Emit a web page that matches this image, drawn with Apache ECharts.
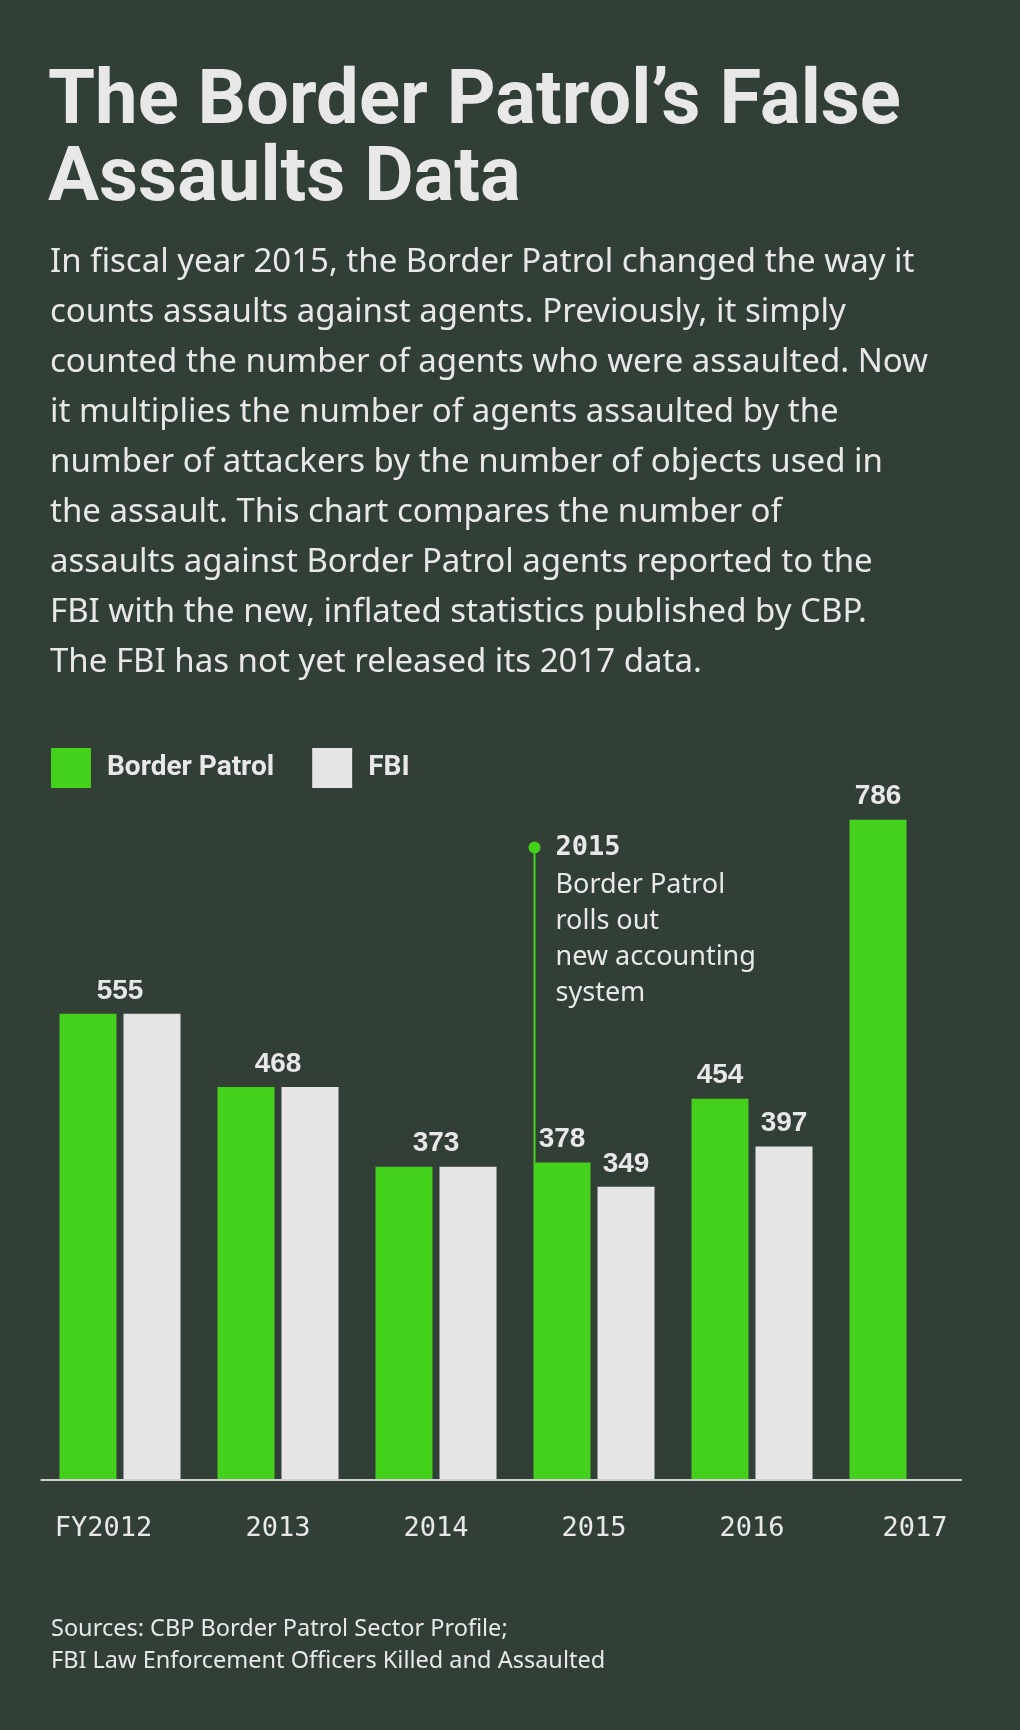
<!DOCTYPE html>
<html lang="en">
<head>
<meta charset="UTF-8">
<title>The Border Patrol's False Assaults Data</title>
<style>
  html, body { margin: 0; padding: 0; background: #323f37; }
  #main { width: 1020px; height: 1730px; }
</style>
</head>
<body>
<div id="main"></div>
<script src="https://cdn.jsdelivr.net/npm/echarts@6/dist/echarts.min.js"></script>
<script>
// data
var categories = ['2012', '2013', '2014', '2015', '2016', '2017'];
var axisLabels = ['FY2012', '2013', '2014', '2015', '2016', '2017'];
var borderPatrol = [555, 468, 373, 378, 454, 786];
var fbi = [555, 468, 373, 349, 397, null];

var seriesNames = ['Border Patrol', 'FBI'];
var noteYear = '2015';
var noteValue = 753; // where the annotation dot sits on the value scale
var noteTitle = '2015';
var noteText = 'Border Patrol\nrolls out\nnew accounting\nsystem';

var titleText = 'The Border Patrol\u2019s False\nAssaults Data';
var bodyText = [
  'In fiscal year 2015, the Border Patrol changed the way it',
  'counts assaults against agents. Previously, it simply',
  'counted the number of agents who were assaulted. Now',
  'it multiplies the number of agents assaulted by the',
  'number of attackers by the number of objects used in',
  'the assault. This chart compares the number of',
  'assaults against Border Patrol agents reported to the',
  'FBI with the new, inflated statistics published by CBP.',
  'The FBI has not yet released its 2017 data.'
].join('\n');
var sourceText = 'Sources: CBP Border Patrol Sector Profile;\nFBI Law Enforcement Officers Killed and Assaulted';

var GREEN = '#44d11b';
var WHITE = '#e5e5e5';
var TEXT = '#e8e8e8';
var BG = '#323f37';
var barWidth = 57;
var barGapPx = 7;

var heavy = "Roboto, 'Liberation Sans', sans-serif";
var sans = "'Noto Sans', 'Liberation Sans', sans-serif";
var mono = "'DejaVu Sans Mono', 'Liberation Mono', monospace";
var labelFont = "'Liberation Sans', Arial, sans-serif";

// when both values match, one label sits over the middle of the pair
var bpData = borderPatrol.map(function (v, i) {
  if (fbi[i] === v) {
    return { value: v, label: { offset: [(barWidth + barGapPx) / 2, 0] } };
  }
  return v;
});
var fbiData = fbi.map(function (v, i) {
  if (v === borderPatrol[i]) {
    return { value: v, label: { show: false } };
  }
  return v;
});

var chart = echarts.init(document.getElementById('main'));

var barLabel = {
  show: true,
  position: 'top',
  distance: 9,
  color: TEXT,
  fontFamily: labelFont,
  fontWeight: 'bold',
  fontSize: 28
};

chart.setOption({
  backgroundColor: BG,
  animation: false,
  title: [{
    text: titleText,
    left: 48,
    top: 65,
    padding: 0,
    textStyle: {
      color: TEXT,
      fontFamily: heavy,
      fontWeight: 'bold',
      fontSize: 76,
      lineHeight: 77
    }
  }, {
    text: bodyText,
    left: 50,
    top: 238,
    padding: 0,
    textStyle: {
      color: TEXT,
      fontFamily: sans,
      fontWeight: 'normal',
      fontSize: 33,
      lineHeight: 50
    }
  }, {
    text: sourceText,
    left: 51,
    top: 1613,
    padding: 0,
    textStyle: {
      color: TEXT,
      fontFamily: sans,
      fontWeight: 'normal',
      fontSize: 23.5,
      lineHeight: 32
    }
  }],
  legend: {
    data: seriesNames,
    left: 51,
    top: 748,
    padding: 0,
    itemWidth: 40,
    itemHeight: 40,
    itemGap: 38,
    icon: 'rect',
    selectedMode: false,
    textStyle: {
      color: TEXT,
      fontFamily: heavy,
      fontWeight: 'bold',
      fontSize: 28,
      padding: [0, 0, 0, 11]
    }
  },
  grid: {
    left: 41,
    right: 31,
    top: 808,
    bottom: 250
  },
  xAxis: {
    type: 'category',
    data: categories,
    axisLine: { show: false },
    axisTick: { show: false },
    axisLabel: {
      interval: 0,
      margin: 35,
      color: TEXT,
      fontFamily: mono,
      fontSize: 27,
      formatter: function (val, idx) {
        if (idx === 0) return '{fy|' + axisLabels[idx] + '}';
        if (idx === axisLabels.length - 1) return '{end|' + axisLabels[idx] + '}';
        return axisLabels[idx];
      },
      rich: {
        fy: {
          color: TEXT,
          fontFamily: mono,
          fontSize: 27,
          padding: [0, 33, 0, 0]
        },
        end: {
          color: TEXT,
          fontFamily: mono,
          fontSize: 27,
          padding: [0, 0, 0, 10]
        }
      }
    }
  },
  yAxis: {
    type: 'value',
    min: 0,
    max: 800,
    show: false,
    splitLine: { show: false }
  },
  series: [{
    name: seriesNames[0],
    type: 'bar',
    data: bpData,
    barWidth: barWidth,
    barGap: (barGapPx / barWidth * 100).toFixed(1) + '%',
    itemStyle: { color: GREEN },
    label: barLabel
  }, {
    name: seriesNames[1],
    type: 'bar',
    data: fbiData,
    barWidth: barWidth,
    itemStyle: { color: WHITE },
    label: barLabel
  }]
});

// baseline and the 2015 annotation, placed through the chart's own scales
var baseY = chart.convertToPixel({ yAxisIndex: 0 }, 0);
var leftX = chart.convertToPixel({ xAxisIndex: 0 }, categories[0]) - (barWidth * 2 + barGapPx) / 2 - 19;
var lastX = chart.convertToPixel({ xAxisIndex: 0 }, categories[categories.length - 1]) + 52;
var noteIdx = categories.indexOf(noteYear);
var noteX = chart.convertToPixel({ xAxisIndex: 0 }, noteYear) - (barWidth * 2 + barGapPx) / 2 + 1;
var noteTop = chart.convertToPixel({ yAxisIndex: 0 }, borderPatrol[noteIdx]);
var noteY = chart.convertToPixel({ yAxisIndex: 0 }, noteValue);

chart.setOption({
  graphic: [{
    type: 'line',
    shape: { x1: leftX, y1: baseY, x2: lastX, y2: baseY },
    style: { stroke: '#cfcfcf', lineWidth: 2 },
    z: 10
  }, {
    type: 'line',
    shape: { x1: noteX, y1: noteY, x2: noteX, y2: noteTop },
    style: { stroke: GREEN, lineWidth: 2 },
    z: 10
  }, {
    type: 'circle',
    shape: { cx: noteX, cy: noteY, r: 6 },
    style: { fill: GREEN },
    z: 10
  }, {
    type: 'text',
    x: noteX + 21,
    y: noteY + 1,
    style: {
      text: noteTitle,
      fill: TEXT,
      font: 'bold 27px ' + mono,
      verticalAlign: 'middle'
    },
    z: 10
  }, {
    type: 'text',
    x: noteX + 21,
    y: noteY + 20,
    style: {
      text: noteText,
      fill: TEXT,
      fontFamily: sans,
      fontSize: 27,
      lineHeight: 36,
      verticalAlign: 'top'
    },
    z: 10
  }]
});
</script>
</body>
</html>
